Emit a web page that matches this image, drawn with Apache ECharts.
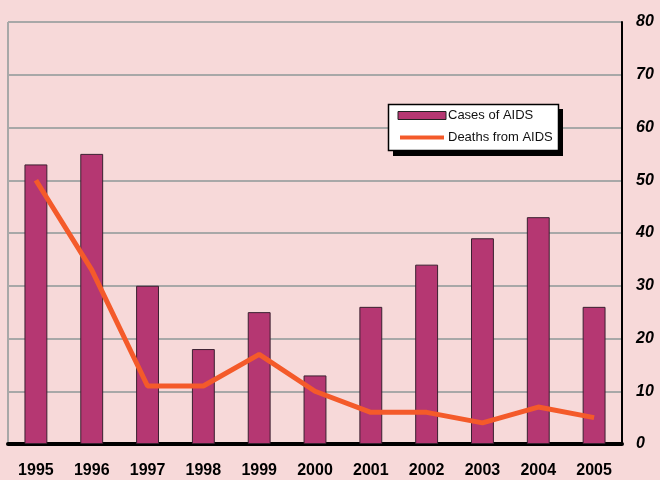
<!DOCTYPE html>
<html>
<head>
<meta charset="utf-8">
<script src="https://cdn.jsdelivr.net/npm/echarts@6/dist/echarts.min.js"></script>
<style>
  html, body { margin: 0; padding: 0; background: #f7d9d9; }
  #main { width: 660px; height: 480px; }
</style>
</head>
<body>
<div id="main"></div>
<script>
// data
var years = ['1995', '1996', '1997', '1998', '1999', '2000', '2001', '2002', '2003', '2004', '2005'];
var cases_of_aids = [53, 55, 30, 18, 25, 13, 26, 34, 39, 43, 26];
var deaths_from_aids = [50, 33, 11, 11, 17, 10, 6, 6, 4, 7, 5];

var CHART = {
    init: function(){
        var myChart = echarts.init(document.getElementById('main'));
        myChart.setOption(this.build_option());
    },
    build_option: function(){
        var option = {
            backgroundColor: '#f7d9d9',
            animation: false,
            textStyle: { fontFamily: 'Liberation Sans, Arial, sans-serif' },
            grid: { left: 8, right: 38, top: 22, bottom: 36 },
            legend: {
                z: 20,
                orient: 'vertical',
                left: 396,
                top: 109,
                itemGap: 9,
                itemWidth: 48,
                itemHeight: 8,
                padding: 0,
                textStyle: { fontSize: 13, color: '#111', padding: [0, 0, 0, -3] },
                data: [
                    { name: 'Cases of AIDS', icon: 'rect', itemStyle: { color: '#b53772', borderColor: '#222', borderWidth: 1 } },
                    // thin line swatch: a bar-shaped path stretched to the item box
                    { name: 'Deaths from AIDS', icon: 'path://M0,0H48V8H0Z', itemStyle: { color: '#f45a2a', borderColor: '#ffffff', borderWidth: 4 } }
                ]
            },
            xAxis: {
                type: 'category',
                data: years,
                boundaryGap: true,
                axisTick: { show: false },
                axisLine: { show: true, lineStyle: { color: '#000', width: 4 } },
                axisLabel: { fontSize: 16, fontWeight: 'bold', color: '#000', margin: 19 }
            },
            yAxis: {
                type: 'value',
                position: 'right',
                min: 0,
                max: 80,
                interval: 10,
                axisLine: { show: true, lineStyle: { color: '#000', width: 2 } },
                axisTick: { show: false },
                splitLine: { lineStyle: { color: '#a8a8a8', width: 2 } },
                axisLabel: { fontSize: 16, fontWeight: 'bold', fontStyle: 'italic', color: '#000', margin: 14 }
            },
            series: [
                {
                    name: 'Cases of AIDS',
                    type: 'bar',
                    data: cases_of_aids,
                    barWidth: '41%',
                    itemStyle: { color: '#b53772', borderColor: '#3a2030', borderWidth: 1 }
                },
                {
                    name: 'Deaths from AIDS',
                    type: 'line',
                    data: deaths_from_aids,
                    symbol: 'none',
                    lineStyle: { color: '#f45a2a', width: 5 },
                    itemStyle: { color: '#f45a2a' },
                    z: 3
                }
            ],
            graphic: [
                {
                    type: 'line',
                    shape: { x1: 8, y1: 22, x2: 8, y2: 444 },
                    style: { stroke: '#a8a8a8', lineWidth: 2 }
                },
                {
                    // legend box shadow
                    type: 'rect',
                    z: 5,
                    shape: { x: 393, y: 109, width: 170, height: 47 },
                    style: { fill: '#000000' }
                },
                {
                    // legend box
                    type: 'rect',
                    z: 6,
                    shape: { x: 388.5, y: 104.5, width: 170, height: 46 },
                    style: { fill: '#ffffff', stroke: '#000000', lineWidth: 1.5 }
                }
            ]
        };
        return option;
    }
};

CHART.init();
</script>
</body>
</html>
